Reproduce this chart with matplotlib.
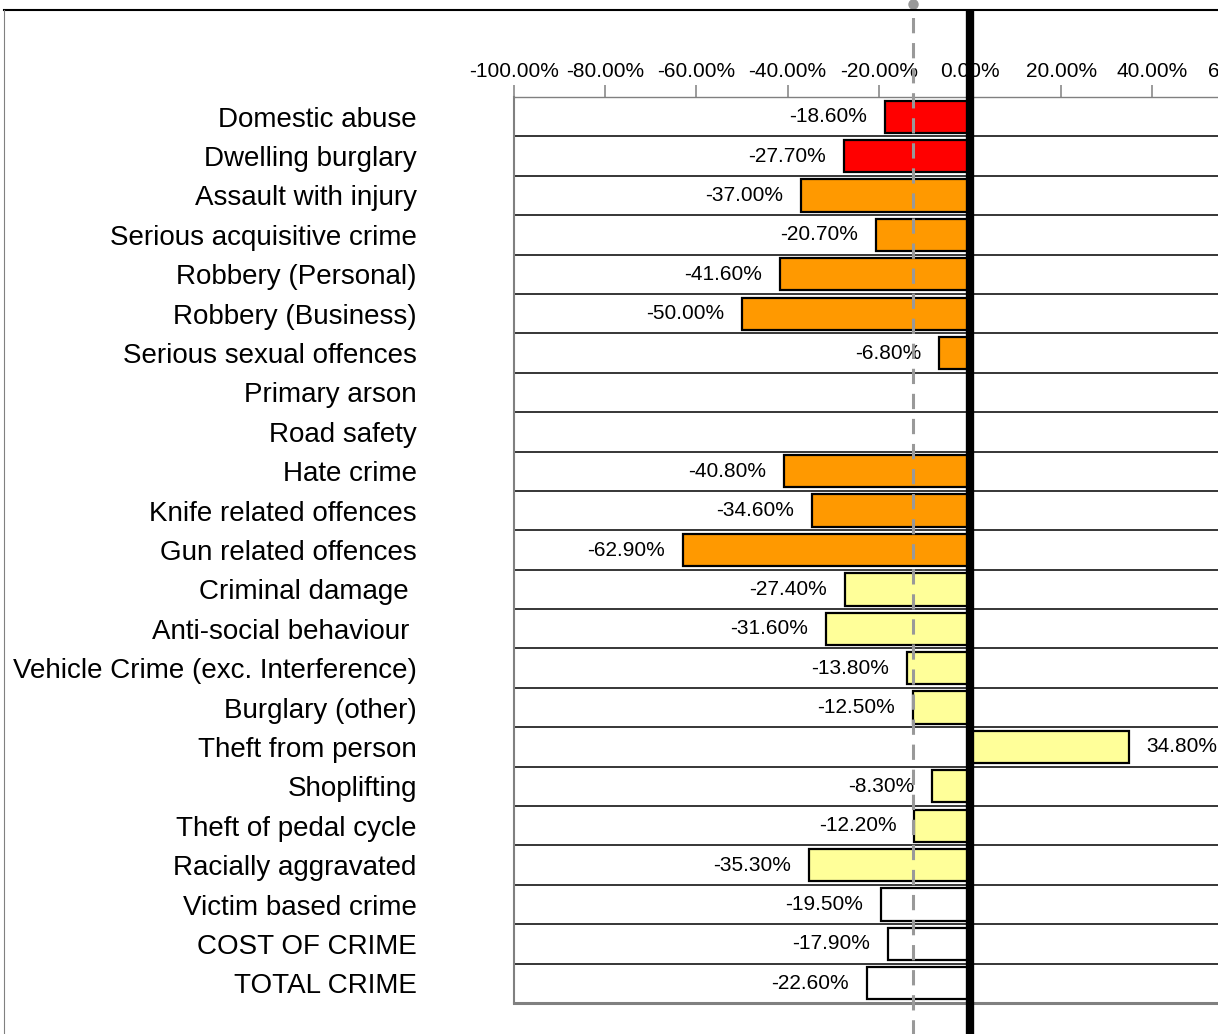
import matplotlib
matplotlib.use("Agg")
import matplotlib.pyplot as plt
import matplotlib.transforms as mtransforms
from matplotlib.lines import Line2D
from matplotlib.ticker import MultipleLocator, FuncFormatter
import numpy as np

plt.rcParams["font.family"] = ["Liberation Sans", "DejaVu Sans"]

categories = [
    "Domestic abuse", "Dwelling burglary", "Assault with injury",
    "Serious acquisitive crime", "Robbery (Personal)", "Robbery (Business)",
    "Serious sexual offences", "Primary arson", "Road safety", "Hate crime",
    "Knife related offences", "Gun related offences", "Criminal damage ",
    "Anti-social behaviour ", "Vehicle Crime (exc. Interference)",
    "Burglary (other)", "Theft from person", "Shoplifting",
    "Theft of pedal cycle", "Racially aggravated", "Victim based crime",
    "COST OF CRIME", "TOTAL CRIME",
]
change_pct = [
    -18.6, -27.7, -37.0, -20.7, -41.6, -50.0, -6.8, np.nan, np.nan, -40.8,
    -34.6, -62.9, -27.4, -31.6, -13.8, -12.5, 34.8, -8.3, -12.2, -35.3,
    -19.5, -17.9, -22.6,
]
group = (["red"] * 2 + ["amber"] * 10 + ["yellow"] * 8 + ["total"] * 3)
reference_pct = -12.5

group_colors = {"red": "#FF0000", "amber": "#FF9900",
                "yellow": "#FFFF99", "total": "#FFFFFF"}

fig = plt.figure(figsize=(12.18, 10.34), dpi=100)
ax = fig.add_axes([514 / 1218, 31 / 1034, 912 / 1218, 906 / 1034])

y = np.arange(len(categories))
vals = np.array(change_pct)
ax.barh(y, np.nan_to_num(vals), height=0.82,
        color=[group_colors[g] for g in group],
        edgecolor="black", linewidth=1.6, zorder=3)

for yi, v in zip(y, vals):
    if np.isnan(v):
        continue
    off = -13 if v < 0 else 13
    ax.annotate(f"{v:.2f}%", (v, yi), xytext=(off, 0),
                textcoords="offset points", va="center",
                ha="right" if v < 0 else "left", fontsize=15, zorder=4)

ax.set_xlim(-100, 100)
ax.set_ylim(len(categories) - 0.5, -0.5)
ax.set_yticks(y)
ax.set_yticklabels(categories, fontsize=20)
ax.set_yticks(y[:-1] + 0.5, minor=True)
ax.tick_params(axis="y", which="both", length=0, pad=70)
ax.grid(axis="y", which="minor", color="black", linewidth=1.1, zorder=1)

ax.xaxis.set_major_locator(MultipleLocator(20))
ax.xaxis.set_major_formatter(FuncFormatter(lambda x, p: f"{x:.2f}%"))
ax.xaxis.tick_top()
ax.tick_params(axis="x", direction="out", length=8.5, width=1.1,
               color="#808080", labelsize=15, pad=3)

for side in ["left", "top", "bottom"]:
    ax.spines[side].set_color("#808080")
ax.spines["left"].set_linewidth(1.5)
ax.spines["top"].set_linewidth(1.0)
ax.spines["bottom"].set_linewidth(2.2)
ax.spines["right"].set_visible(False)

# zero line and reference line running past the plot area
ax.axvline(0, ymin=-0.05, ymax=1.096, color="black", linewidth=6,
           solid_capstyle="butt", clip_on=False, zorder=6)
ax.axvline(reference_pct, ymin=-0.05, ymax=1.103, color="#999999",
           linewidth=2.2, linestyle=(0, (5.0, 3.2)), dash_capstyle="butt",
           clip_on=False, zorder=6)
trans = mtransforms.blended_transform_factory(ax.transData, ax.transAxes)
ax.plot([reference_pct], [1.103], marker="o", markersize=6.5,
        color="#999999", transform=trans, clip_on=False, zorder=7)

# chart area border
fig.add_artist(Line2D([4 / 1218, 1], [1024 / 1034, 1024 / 1034],
                      color="black", linewidth=1.5))
fig.add_artist(Line2D([4 / 1218, 4 / 1218], [0, 1024 / 1034],
                      color="#808080", linewidth=0.8))

fig.savefig("out.png", dpi=100)
